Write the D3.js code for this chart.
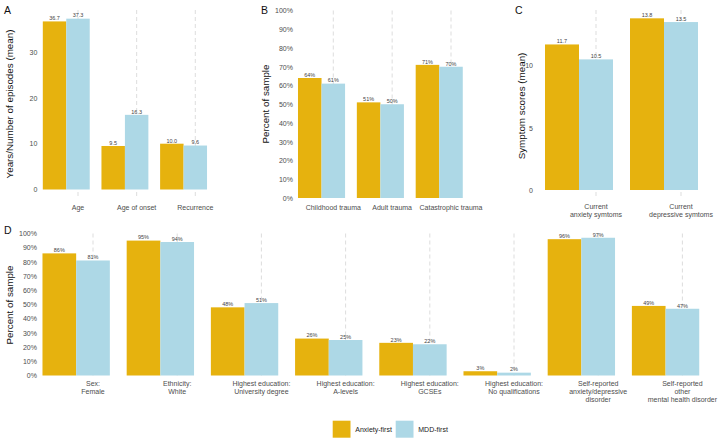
<!DOCTYPE html>
<html><head><meta charset="utf-8">
<script src="https://cdn.jsdelivr.net/npm/d3@7"></script>
<style>
body{margin:0;background:#fff;}
svg{display:block;font-family:"Liberation Sans",Arial,Helvetica,sans-serif;}
</style></head>
<body>
<svg id="chart" width="718" height="440"></svg>
<script>
// ---- data ----
const seriesNames = ["Anxiety-first", "MDD-first"];
const colors = ["#E6B20E", "#ADD8E6"];

const catsA = ["Age", "Age of onset", "Recurrence"];
const anxA = [36.7, 9.5, 10.0];
const mddA = [37.3, 16.3, 9.6];
const ticksA = [0, 10, 20, 30];

const catsB = ["Childhood trauma", "Adult trauma", "Catastrophic trauma"];
const anxB = [0.64, 0.51, 0.71];
const mddB = [0.61, 0.50, 0.70];
const ticksB = [0, 0.1, 0.2, 0.3, 0.4, 0.5, 0.6, 0.7, 0.8, 0.9, 1.0];

const catsC = ["Current\nanxiety symtoms", "Current\ndepressive symtoms"];
const anxC = [11.7, 13.8];
const mddC = [10.5, 13.5];
const ticksC = [0, 5, 10];

const catsD = ["Sex:\nFemale", "Ethnicity:\nWhite", "Highest education:\nUniversity degree",
  "Highest education:\nA-levels", "Highest education:\nGCSEs", "Highest education:\nNo qualifications",
  "Self-reported\nanxiety/depressive\ndisorder", "Self-reported\nother\nmental health disorder"];
const anxD = [0.86, 0.95, 0.48, 0.26, 0.23, 0.03, 0.96, 0.49];
const mddD = [0.81, 0.94, 0.51, 0.25, 0.22, 0.02, 0.97, 0.47];
const ticksD = ticksB;

// ---- drawing ----
const svg = d3.select("#chart");
const pct = d3.format(".0%");
const one = d3.format(".1f");

function panel(o) {
  const g = svg.append("g");
  const x = d3.scalePoint().domain(o.cats).range(o.xr);
  const step = x.step();
  const bw = step * 0.4;
  const y = d3.scaleLinear().domain(o.yd).range(o.yr);
  const left = x(o.cats[0]) - 0.6 * step;

  // dashed vertical gridlines
  g.selectAll(".grid").data(o.cats).join("line")
    .attr("x1", d => x(d)).attr("x2", d => x(d))
    .attr("y1", o.gridTop).attr("y2", o.gridBottom)
    .attr("stroke", "#cfcfcf").attr("stroke-width", 0.7)
    .attr("stroke-dasharray", "4,3");

  const series = [o.a, o.b];
  series.forEach((vals, si) => {
    g.selectAll(".bar" + si).data(o.cats).join("rect")
      .attr("x", (d) => x(d) - (1.5 - si) * bw)
      .attr("width", bw)
      .attr("y", (d, i) => y(vals[i]))
      .attr("height", (d, i) => y(0) - y(vals[i]))
      .attr("fill", colors[si]);
    g.selectAll(".lab" + si).data(o.cats).join("text")
      .attr("x", (d) => x(d) - (1 - si) * bw)
      .attr("y", (d, i) => y(vals[i]) - 1.2)
      .attr("text-anchor", "middle")
      .attr("font-size", 5.5)
      .attr("fill", "#444")
      .text((d, i) => o.fmtVal(vals[i]));
  });

  // y axis
  const ax = g.append("g").attr("transform", `translate(${left},0)`)
    .call(d3.axisLeft(y).tickValues(o.ticks).tickFormat(o.fmtTick).tickSize(0).tickPadding(o.pad));
  ax.select(".domain").remove();
  ax.selectAll("text").attr("font-size", 7).attr("fill", "#4d4d4d")
    .attr("font-family", "Liberation Sans, Arial, sans-serif");

  // x labels
  g.selectAll(".xl").data(o.cats).join("text")
    .attr("text-anchor", "middle")
    .attr("font-size", 7).attr("fill", "#4d4d4d")
    .attr("transform", d => `translate(${x(d)},${o.xLabY})`)
    .each(function(d) {
      const lines = d.split("\n");
      d3.select(this).selectAll("tspan").data(lines).join("tspan")
        .attr("x", 0).attr("y", (l, i) => i * 8.2).text(l => l);
    });

  // y title
  g.append("text")
    .attr("transform", `translate(${o.titleX},${o.titleY}) rotate(-90)`)
    .attr("text-anchor", "middle").attr("font-size", 9.8).attr("fill", "#111")
    .text(o.title);

  // panel letter
  g.append("text").attr("x", o.letter[1]).attr("y", o.letter[2])
    .attr("font-size", 10.5).attr("fill", "#111").text(o.letter[0]);
}

panel({cats: catsA, a: anxA, b: mddA, xr: [78, 195.3], yd: [0, 30], yr: [189.5, 52.1],
  gridTop: 10, gridBottom: 198, ticks: ticksA, fmtTick: d3.format("d"), fmtVal: one, pad: 5.5,
  xLabY: 210, title: "Years/Number of episodes (mean)", titleX: 13, titleY: 104, letter: ["A", 4, 14]});

panel({cats: catsB, a: anxB, b: mddB, xr: [333.3, 451], yd: [0, 1], yr: [198, 10.5],
  gridTop: 10.5, gridBottom: 198, ticks: ticksB, fmtTick: pct, fmtVal: pct, pad: 5,
  xLabY: 209.5, title: "Percent of sample", titleX: 269, titleY: 104, letter: ["B", 261, 14]});

panel({cats: catsC, a: anxC, b: mddC, xr: [596, 681], yd: [0, 10], yr: [190, 65.6],
  gridTop: 10, gridBottom: 198, ticks: ticksC, fmtTick: d3.format("d"), fmtVal: one, pad: 12,
  xLabY: 208.5, title: "Symptom scores (mean)", titleX: 525, titleY: 106, letter: ["C", 515, 14]});

panel({cats: catsD, a: anxD, b: mddD, xr: [93, 682.4], yd: [0, 1], yr: [375.5, 233.5],
  gridTop: 233.5, gridBottom: 375.5, ticks: ticksD, fmtTick: pct, fmtVal: pct, pad: 5.5,
  xLabY: 385.5, title: "Percent of sample", titleX: 13, titleY: 305, letter: ["D", 4, 234]});

// legend
const leg = svg.append("g").attr("transform", "translate(332.7,420.7)");
const offs = [0, 63];
seriesNames.forEach((s, i) => {
  leg.append("rect").attr("x", offs[i]).attr("y", 0).attr("width", 17.8).attr("height", 17)
    .attr("fill", colors[i]);
  leg.append("text").attr("x", offs[i] + 22.6).attr("y", 11).attr("font-size", 7)
    .attr("fill", "#222").text(s);
});
</script>
</body></html>
